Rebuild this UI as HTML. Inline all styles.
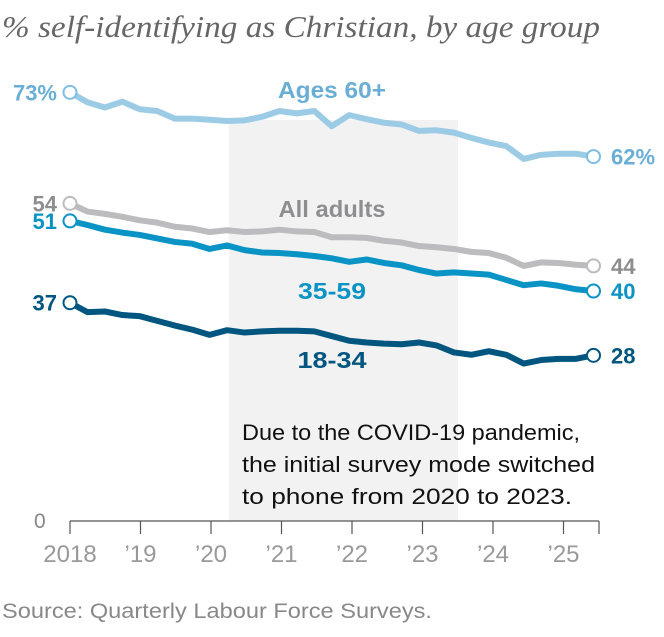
<!DOCTYPE html>
<html><head><meta charset="utf-8">
<style>
html,body{margin:0;padding:0;background:#fff;}
svg{display:block;}
.t{font-family:"Liberation Serif",serif;font-style:italic;}
.n{font-family:"Liberation Sans",sans-serif;}
</style></head>
<body>
<svg id="chart" width="664" height="637" viewBox="0 0 664 637" xmlns="http://www.w3.org/2000/svg">
<text class="t" x="2" y="37" font-size="31" fill="#666" textLength="598" lengthAdjust="spacingAndGlyphs">% self-identifying as Christian, by age group</text>
<rect x="229" y="120" width="229" height="401" fill="#f2f2f2"/>
<g id="axis"></g>
<g id="lines"></g>
<text class="n" x="34" y="528" font-size="21" fill="#888">0</text>
<g class="n" font-size="22" fill="#111">
<text x="242" y="440" textLength="338" lengthAdjust="spacingAndGlyphs">Due to the COVID-19 pandemic,</text>
<text x="242" y="472" textLength="353" lengthAdjust="spacingAndGlyphs">the initial survey mode switched</text>
<text x="242" y="504" textLength="330" lengthAdjust="spacingAndGlyphs">to phone from 2020 to 2023.</text>
</g>
<text class="n" x="2" y="618" font-size="21" fill="#888" textLength="430" lengthAdjust="spacingAndGlyphs">Source: Quarterly Labour Force Surveys.</text>
</svg>
<script>
const yearLabels = ["2018","\u201919","\u201920","\u201921","\u201922","\u201923","\u201924","\u201925"];
const ages60 = [73,71.3,70.4,71.4,70.1,69.8,68.5,68.5,68.3,68.1,68.2,68.8,69.8,69.4,69.8,67.2,69.1,68.4,67.8,67.5,66.4,66.5,66.1,65.2,64.4,63.8,61.6,62.3,62.5,62.5,62];
const allAdults = [54,52.6,52.2,51.7,51.1,50.7,50.0,49.7,49.1,49.4,49.1,49.2,49.5,49.2,49.1,48.2,48.2,48.1,47.6,47.3,46.7,46.5,46.2,45.7,45.5,44.7,43.3,43.9,43.8,43.5,43.3];
const ages35 = [51,50.3,49.5,49.0,48.6,48.0,47.4,47.1,46.2,46.8,46.0,45.6,45.5,45.3,45.0,44.6,44.0,44.4,43.8,43.4,42.6,42.0,42.2,42.0,41.8,40.9,40.0,40.3,39.9,39.3,39];
const ages18 = [37,35.4,35.5,34.9,34.7,33.9,33.1,32.4,31.5,32.3,31.9,32.1,32.2,32.2,32.1,31.3,30.5,30.2,30.0,29.9,30.2,29.7,28.5,28.1,28.7,28.1,26.6,27.2,27.4,27.4,28];
const endLabels = ["73%","62%","54","44","51","40","37","28"];

const NS="http://www.w3.org/2000/svg";
const x = i => 70 + i*17.45;
const xYear = k => 70 + k*70.5;
const y = v => 519 - v*5.845;
function mk(tag, attrs, parent){const e=document.createElementNS(NS,tag);for(const k in attrs)e.setAttribute(k,attrs[k]);parent.appendChild(e);return e;}

const ax=document.getElementById('axis');
const axLine=mk('line',{x1:70,x2:599,y1:521,y2:521,stroke:'#555','stroke-width':1.2},ax);


yearLabels.forEach((lab,k)=>{
  const t=mk('line',{x1:xYear(k),x2:xYear(k),y1:521,y2:534,stroke:'#555','stroke-width':1.2},ax);
  
  
  const tx=mk('text',{x:xYear(k),y:562,'text-anchor':'middle','font-size':24,fill:'#999',class:'n'},ax);
  tx.textContent=lab;
  
  
});
const endTick=mk('line',{x1:599,x2:599,y1:521,y2:534,stroke:'#555','stroke-width':1.2},ax);



const g=document.getElementById('lines');
const series=[
 {d:ages60,c:'#9ccbe6',lc:'#6aaed6',name:'ages-60-plus',lab:'Ages 60+',lx:332,ly:98,tl:108,sl:endLabels[0],el:endLabels[1]},
 {d:allAdults,c:'#bcbcbe',lc:'#8e8e90',name:'all-adults',lab:'All adults',lx:332,ly:217,tl:107,sl:endLabels[2],el:endLabels[3]},
 {d:ages35,c:'#0a93c5',lc:'#0a93c5',name:'ages-35-59',lab:'35-59',lx:332,ly:299,tl:68,sl:endLabels[4],el:endLabels[5]},
 {d:ages18,c:'#00567f',lc:'#00567f',name:'ages-18-34',lab:'18-34',lx:332,ly:368,tl:69,sl:endLabels[6],el:endLabels[7]}
];
series.forEach(s=>{
  const p=mk('polyline',{points:s.d.map((v,i)=>x(i)+','+y(v)).join(' '),fill:'none',stroke:s.c,'stroke-width':6,'stroke-linejoin':'round'},g);
  
  
  [0,s.d.length-1].forEach(i=>{
    const c=mk('circle',{cx:x(i),cy:y(s.d[i]),r:6.5,fill:'#fff',stroke:s.c==='#9ccbe6'?'#7fbde3':s.c,'stroke-width':2},g);
    
    
  });
  const a=mk('text',{x:57,y:y(s.d[0])+8,'text-anchor':'end','font-size':22,'font-weight':'bold',fill:s.lc,class:'n'},g);
  a.textContent=s.sl;
  
  
  const b=mk('text',{x:611,y:y(s.d[s.d.length-1])+8,'font-size':22,'font-weight':'bold',fill:s.lc,class:'n'},g);
  b.textContent=s.el;
  
  
  const l=mk('text',{x:s.lx,y:s.ly,'text-anchor':'middle','font-size':23,'font-weight':'bold',fill:s.lc,class:'n',textLength:s.tl,lengthAdjust:'spacingAndGlyphs'},g);
  l.textContent=s.lab;
  
  
});
</script>
</body></html>
